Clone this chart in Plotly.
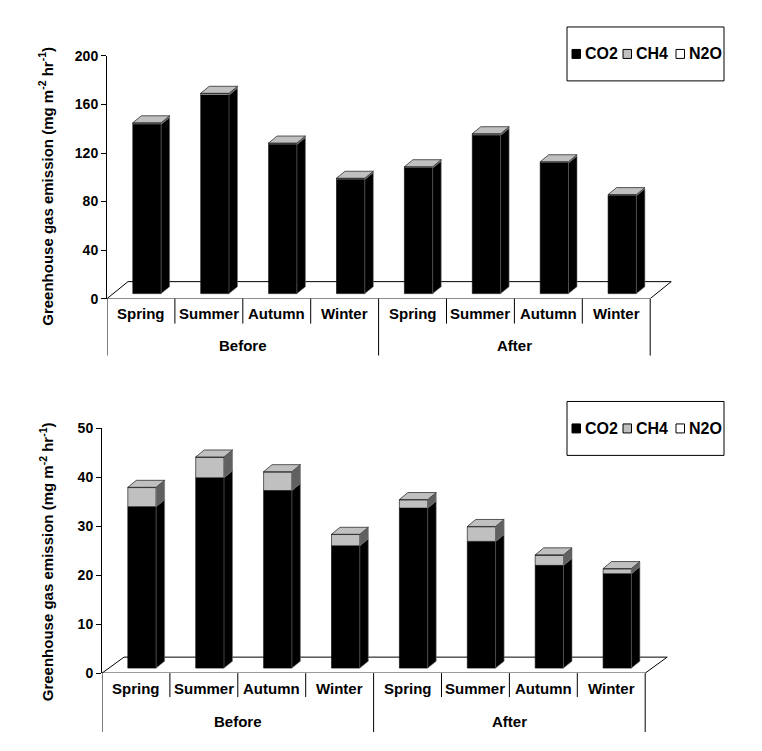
import plotly.graph_objects as go

# ---------------- data ----------------
seasons = ["Spring", "Summer", "Autumn", "Winter"]
periods = ["Before", "After"]

# top panel
top_co2 = [139.5, 163.7, 122.9, 94.1, 103.5, 130.5, 107.7, 80.7]
top_ch4 = [1.2, 1.3, 1.1, 0.9, 1.0, 1.2, 0.9, 0.8]
top_n2o = [0.1, 0.1, 0.1, 0.1, 0.1, 0.1, 0.1, 0.1]
top_ticks = [0, 40, 80, 120, 160, 200]

# bottom panel
bot_co2 = [33.0, 38.9, 36.3, 25.0, 32.7, 25.9, 21.0, 19.3]
bot_ch4 = [3.9, 4.2, 3.8, 2.3, 1.7, 3.0, 2.1, 1.0]
bot_n2o = [0.05, 0.05, 0.05, 0.05, 0.05, 0.05, 0.05, 0.05]
bot_ticks = [0, 10, 20, 30, 40, 50]

series_names = ["CO2", "CH4", "N2O"]
front_colors = ["#000000", "#c0c0c0", "#ffffff"]
side_colors = ["#000000", "#606060", "#808080"]
top_color = "#c0c0c0"

W_FIG, H_FIG = 762, 751
FONT = "Arial, Liberation Sans, sans-serif"

# vertical calibration of the rendered picture (observed y' = 6 + 0.98*y)
V_OFF, V_SCALE = 6.0, 0.98


def px_x(p):
    return p / W_FIG


def px_y(p):
    d = (p - V_OFF) / V_SCALE
    return 1 - d / H_FIG


UNIT = 67.9  # pixels per category
fig = go.Figure()

panels = [
    dict(co2=top_co2, ch4=top_ch4, n2o=top_n2o, ticks=top_ticks, ymax=200,
         x0=107, ytop=54, ybot=297, xa="x", ya="y", xl="xaxis", yl="yaxis",
         fdx=21, fdy=17, lab_y=312, grp_y=344, div_short=322, div_long=354,
         title_y=185, leg_top=25),
    dict(co2=bot_co2, ch4=bot_ch4, n2o=bot_n2o, ticks=bot_ticks, ymax=50,
         x0=102, ytop=427, ybot=672, xa="x2", ya="y2", xl="xaxis2", yl="yaxis2",
         fdx=22, fdy=16, lab_y=687, grp_y=720, div_short=696, div_long=731,
         title_y=561, leg_top=400),
]

shapes = []
annotations = []
layout_axes = {}

for k, P in enumerate(panels):
    yscale = (P["ybot"] - P["ytop"]) / P["ymax"]  # px per unit
    fdx_u = P["fdx"] / UNIT
    fdy_u = P["fdy"] / yscale
    xr = 8 + fdx_u + 0.05
    layout_axes[P["xl"]] = dict(
        domain=[px_x(P["x0"]), px_x(P["x0"] + xr * UNIT)], range=[0, xr],
        visible=False, anchor=P["ya"])
    layout_axes[P["yl"]] = dict(
        domain=[px_y(P["ybot"]), px_y(P["ytop"])], range=[0, P["ymax"]],
        tickvals=P["ticks"], showline=True, linecolor="black", linewidth=1,
        ticks="outside", ticklen=5, tickcolor="black", showgrid=False,
        zeroline=False, anchor=P["xa"],
        tickfont=dict(family=FONT, size=14, color="black", weight="bold"))

    # bar geometry (pixels -> data units)
    offx = 6 / UNIT
    offy = 5 / yscale
    bw = 28.3 / UNIT
    ddx = 8.5 / UNIT
    ddy = 7 / yscale
    centers = [i + 0.5 + offx for i in range(8)]

    segs = [P["co2"], P["ch4"], P["n2o"]]
    bases = [[offy] * 8]
    for s in segs[:-1]:
        bases.append([b + v for b, v in zip(bases[-1], s)])

    for j, (vals, base) in enumerate(zip(segs, bases)):
        fig.add_trace(go.Bar(
            x=centers, y=vals, base=base, width=bw, xaxis=P["xa"], yaxis=P["ya"],
            marker=dict(color=front_colors[j], line=dict(color="#000000", width=0.6)),
            name=series_names[j], showlegend=False, hoverinfo="skip"))
        # side faces
        xs, ys = [], []
        for c, b, v in zip(centers, base, vals):
            x1 = c + bw / 2
            t = b + v
            xs += [x1, x1 + ddx, x1 + ddx, x1, x1, None]
            ys += [b, b + ddy, t + ddy, t, b, None]
        fig.add_trace(go.Scatter(
            x=xs, y=ys, xaxis=P["xa"], yaxis=P["ya"], mode="lines", fill="toself",
            fillcolor=side_colors[j], line=dict(color="#707070", width=0.6),
            showlegend=False, hoverinfo="skip"))
    # top faces
    xs, ys = [], []
    for c, b, v in zip(centers, bases[-1], segs[-1]):
        x0 = c - bw / 2
        x1 = c + bw / 2
        t = b + v
        xs += [x0, x1, x1 + ddx, x0 + ddx, x0, None]
        ys += [t, t, t + ddy, t + ddy, t, None]
    fig.add_trace(go.Scatter(
        x=xs, y=ys, xaxis=P["xa"], yaxis=P["ya"], mode="lines", fill="toself",
        fillcolor=top_color, line=dict(color="#303030", width=0.8),
        showlegend=False, hoverinfo="skip"))

    # floor
    shapes.append(dict(
        type="path", xref=P["xa"], yref=P["ya"], layer="below",
        path=f"M 0 0 L 8 0 L {8 + fdx_u} {fdy_u} L {fdx_u} {fdy_u} Z",
        line=dict(color="black", width=1), fillcolor="white"))

    # dividers
    for d in range(9):
        long_ = d in (0, 4, 8)
        shapes.append(dict(
            type="line", xref=P["xa"], yref="paper", x0=d, x1=d,
            y0=px_y(P["ybot"]), y1=px_y(P["div_long"] if long_ else P["div_short"]),
            line=dict(color="black", width=1)))

    # category labels
    for i in range(8):
        annotations.append(dict(
            x=i + 0.5, y=px_y(P["lab_y"]), xref=P["xa"], yref="paper",
            text=f"<b>{seasons[i % 4]}</b>", showarrow=False,
            font=dict(family=FONT, size=15, color="black"),
            xanchor="center", yanchor="middle"))
    for g in range(2):
        annotations.append(dict(
            x=g * 4 + 2, y=px_y(P["grp_y"]), xref=P["xa"], yref="paper",
            text=f"<b>{periods[g]}</b>", showarrow=False,
            font=dict(family=FONT, size=15, color="black"),
            xanchor="center", yanchor="middle"))

    # y axis title
    annotations.append(dict(
        x=px_x(46), y=px_y(P["title_y"]), xref="paper", yref="paper",
        text="<b>Greenhouse gas emission (mg m<sup>-2</sup> hr<sup>-1</sup>)</b>",
        textangle=-90, showarrow=False, xanchor="center", yanchor="middle",
        font=dict(family=FONT, size=15, color="black")))

    # legend box
    lt = P["leg_top"]
    shapes.append(dict(type="rect", xref="paper", yref="paper",
                       x0=px_x(567), x1=px_x(724), y0=px_y(lt), y1=px_y(lt + 54),
                       line=dict(color="black", width=1), fillcolor="white"))
    cy = lt + 27
    sw_x = [572, 623, 676]
    tx_x = [583, 634, 687]
    for j in range(3):
        shapes.append(dict(type="rect", xref="paper", yref="paper",
                           x0=px_x(sw_x[j]), x1=px_x(sw_x[j] + 8.5),
                           y0=px_y(cy - 4.5), y1=px_y(cy + 4.5),
                           line=dict(color="black", width=1),
                           fillcolor=front_colors[j]))
        annotations.append(dict(
            x=px_x(tx_x[j]), y=px_y(cy), xref="paper", yref="paper",
            text=f"<b>{series_names[j]}</b>", showarrow=False,
            xanchor="left", yanchor="middle",
            font=dict(family=FONT, size=16, color="black")))

fig.update_layout(
    width=W_FIG, height=H_FIG, margin=dict(l=0, r=0, t=0, b=0),
    paper_bgcolor="white", plot_bgcolor="rgba(0,0,0,0)",
    barmode="overlay", showlegend=False,
    shapes=shapes, annotations=annotations, **layout_axes)

fig.write_html(
    "out.html",
    config={"displayModeBar": False, "staticPlot": True},
    post_script=(
        "document.documentElement.style.margin='0';"
        "document.body.style.margin='0';"
        "document.body.style.overflow='hidden';"
        "var gd=document.getElementById('{plot_id}');"
        "gd.style.position='fixed';gd.style.top='0px';gd.style.left='0px';"
    ))
